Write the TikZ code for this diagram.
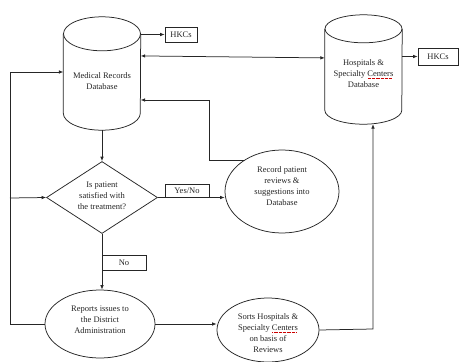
\documentclass[tikz,border=0pt]{standalone}
\usepackage{fontspec}
\setmainfont{Liberation Serif}
\usetikzlibrary{shapes.geometric,arrows.meta,calc}

% red dotted spell-check mark under a word
\newsavebox\wavybox
\newcommand\spellmark[1]{\sbox\wavybox{#1}\usebox\wavybox\llap{\raisebox{-1.8pt}{\color{red!80!black}\hbox to \wd\wavybox{\leaders\hbox to 1.3pt{\hss\vrule width 0.5pt height 0.4pt\hss}\hfill}}}}

\tikzset{
  line/.style={draw=black!85, line width=0.75pt},
  arr/.style={line, -{Latex[length=4.5pt,width=3.6pt]}},
  dbl/.style={line, {Latex[length=4.5pt,width=3.6pt]}-{Latex[length=4.5pt,width=3.6pt]}},
  txt/.style={font=\fontsize{8.5}{11}\selectfont, align=center, inner sep=0pt, text=black!85},
  lbl/.style={line, font=\fontsize{8.5}{11}\selectfont, inner sep=0pt, text=black!85},
  drum/.style={inner sep=0pt, minimum width=77pt},
  oval/.style={ellipse, line, inner sep=0pt},
  choice/.style={diamond, line, inner sep=0pt},
}

\begin{document}
\begin{tikzpicture}[x=1pt,y=-1pt]
\fill[white] (0,0) rectangle (459,362);
\useasboundingbox (0,0) rectangle (459,362);

% database drums (outline drawn below)
\node[drum, minimum height=113pt] (MR) at (102,73.5) {};
\node[drum, minimum height=109pt] (HS) at (363.5,69.5) {};
\foreach \n/\r in {MR/17, HS/14}{
  \draw[line] ([yshift=-\r pt]\n.north) ellipse[x radius=38.5pt, y radius=\r pt];
  \draw[line] ([yshift=-\r pt]\n.north west) -- ([yshift=\r pt]\n.south west)
    arc[start angle=180, end angle=360, x radius=38.5pt, y radius=\r pt]
    -- ([yshift=-\r pt]\n.north east);
}
\node[txt] (MRtext) at (102,81.5) {Medical Records\\Database};
\node[txt] (HStext) at (363.5,74) {Hospitals \&\\Specialty \spellmark{Centers}\\Database};

% output boxes
\node[lbl, minimum width=32pt, minimum height=15pt] (HK1) at (181,34.5) {HKCs};
\node[lbl, minimum width=40pt, minimum height=17pt] (HK2) at (438,56.5) {HKCs};

% decision and processes
\node[choice, minimum width=111pt, minimum height=72pt] (Dia) at (102,197.5) {};
\node[txt] (Diatext) at (102,195.5) {Is patient\\satisfied with\\the treatment?};

\node[oval, minimum width=114pt, minimum height=83pt] (Rec) at (282,191.5) {};
\node[txt] (Rectext) at (282,186.5) {Record patient\\reviews \&\\suggestions into\\Database};

\node[oval, minimum width=110pt, minimum height=68pt] (Rep) at (100,324) {};
\node[txt] (Reptext) at (100,320) {Reports issues to\\the District\\Administration};

\node[oval, minimum width=102pt, minimum height=64pt] (Sort) at (268,330) {};
\node[txt] (Sorttext) at (268,333) {Sorts Hospitals \&\\Specialty \spellmark{Centers}\\on basis of\\Reviews};

% branch labels
\node[lbl, minimum width=44pt, minimum height=13pt] (YN) at (187,190.5) {Yes/No};
\node[lbl, minimum width=44pt, minimum height=15pt] (NO) at (124,262.5) {No};

% loop-back line on the left
\coordinate (loopTop) at (10,72);
\coordinate (loopMid) at (10,198);
\coordinate (loopBot) at (10,324);
\coordinate (recKnee) at (209,100);
\coordinate (sortKnee) at (373,329);

% connectors
\draw[arr] (MR.east |- HK1.west) -- (HK1.west);
\draw[arr] (HS.east |- HK2.west) -- (HK2.west);
\draw[dbl] ($(MR.north east)!0.345!(MR.south east)$) -- ($(HS.north west)!0.394!(HS.south west)$);
\draw[arr] (MR.south) -- (Dia.north);
\draw[arr] (Dia.east) -- (Rec.west |- Dia.east);
\draw[arr] (Rec.140) -| (recKnee) -- (recKnee -| MR.east);
\draw[arr] (Dia.south) -- (Dia.south |- Rep.north);
\draw[arr] (Rep.west) -- (loopBot) -- (loopTop) -- (loopTop -| MR.west);
\draw[arr] (loopMid) -- (Dia.west);
\draw[arr] (Rep.east) -- (Rep.east -| Sort.west);
\draw[arr] (Sort.east) -- (sortKnee) -- (sortKnee |- HS.south);
\end{tikzpicture}
\end{document}
